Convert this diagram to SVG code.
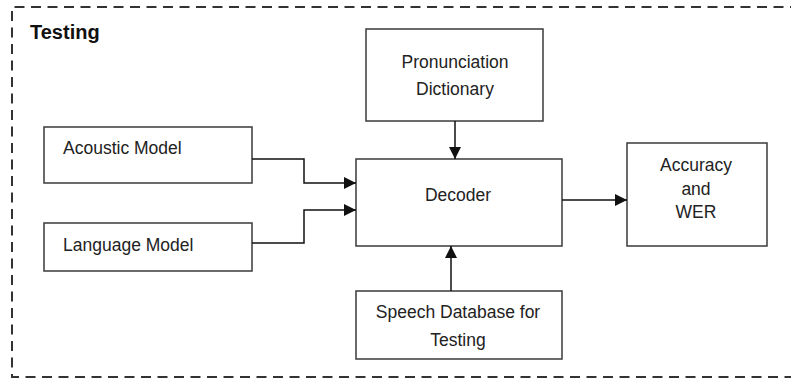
<svg xmlns="http://www.w3.org/2000/svg" width="791" height="379" viewBox="0 0 791 379">
<defs>
<style>
.box{fill:#fff;stroke:#3a3a3a;stroke-width:1.5}
.t{font-family:"Liberation Sans",Arial,sans-serif;font-size:17.5px;fill:#222}
.c{text-anchor:middle}
.conn{fill:none;stroke:#111;stroke-width:1.5}
.frame{fill:none;stroke:#333;stroke-width:2;stroke-dasharray:10 6.5}
</style>
<marker id="ah" markerWidth="13" markerHeight="12" refX="12" refY="6" orient="auto" markerUnits="userSpaceOnUse">
<path d="M0,0 L12,6 L0,12 Z" fill="#111"/>
</marker>
</defs>
<rect width="791" height="379" fill="#fff"/>
<path class="frame" d="M800,7 H12 V377 H800"/>
<text x="30" y="39" font-family="Liberation Sans,Arial,sans-serif" font-size="20" font-weight="bold" fill="#111">Testing</text>
<g id="acoustic">
<rect class="box" x="44" y="127" width="208" height="56"/>
<text class="t" x="63" y="154">Acoustic Model</text>
</g>
<g id="language">
<rect class="box" x="44" y="223" width="208" height="48"/>
<text class="t" x="63" y="251">Language Model</text>
</g>
<g id="pronunciation">
<rect class="box" x="366" y="29" width="177" height="92"/>
<text class="t c" x="455" y="68">Pronunciation</text>
<text class="t c" x="455" y="95">Dictionary</text>
</g>
<g id="decoder">
<rect class="box" x="356" y="159" width="206" height="87"/>
<text class="t c" x="458" y="201">Decoder</text>
</g>
<g id="accuracy">
<rect class="box" x="627" y="143" width="140" height="103"/>
<text class="t c" x="696" y="171">Accuracy</text>
<text class="t c" x="696" y="195">and</text>
<text class="t c" x="696" y="218">WER</text>
</g>
<g id="speech">
<rect class="box" x="356" y="291" width="206" height="68"/>
<text class="t c" x="458" y="318">Speech Database for</text>
<text class="t c" x="458" y="346">Testing</text>
</g>
<g id="connectors">
<path class="conn" d="M252,159 H304 V183 H356" marker-end="url(#ah)"/>
<path class="conn" d="M252,243 H304 V210 H356" marker-end="url(#ah)"/>
<path class="conn" d="M455,121 V159" marker-end="url(#ah)"/>
<path class="conn" d="M451,291 V246" marker-end="url(#ah)"/>
<path class="conn" d="M562,200 H627" marker-end="url(#ah)"/>
</g>
</svg>
